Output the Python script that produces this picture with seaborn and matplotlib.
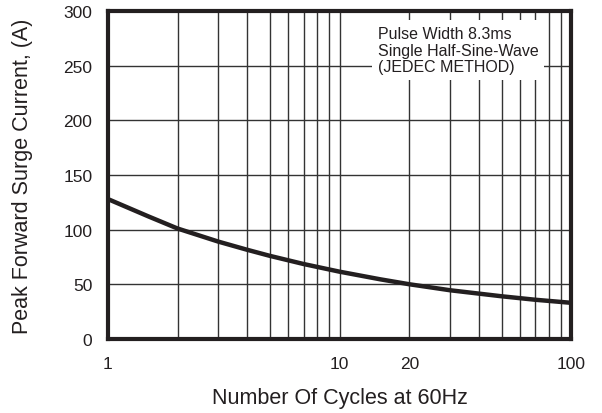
import matplotlib
matplotlib.use("Agg")
import matplotlib.pyplot as plt
import seaborn as sns
import pandas as pd
from matplotlib.ticker import FixedLocator, NullFormatter

# Values
cycles = [1, 1.5, 2, 3, 4, 5, 7, 10, 15, 20, 30, 50, 70, 100]
surge_current = [128, 112, 101, 89, 81.5, 76, 68.5, 61.5, 54.5, 50, 44.5, 39, 35.8, 33]
x_tick_values = [1, 10, 20, 100]
x_tick_labels = ["1", "10", "20", "100"]
y_tick_values = [0, 50, 100, 150, 200, 250, 300]

df = pd.DataFrame({"cycles": cycles, "current": surge_current})

sns.set_style("white")
plt.rcParams["font.family"] = ["Liberation Sans", "DejaVu Sans"]

fig = plt.figure(figsize=(6.02, 4.14), dpi=100)
ax = fig.add_axes([0.179, 0.179, 0.770, 0.792])

sns.lineplot(data=df, x="cycles", y="current", ax=ax, color="#231f20",
             linewidth=3.2, solid_joinstyle="round", solid_capstyle="butt")

ax.set_xscale("log")
ax.set_xlim(1, 100)
ax.set_ylim(0, 300)

# Grid lines
grid_x = [2, 3, 4, 5, 6, 7, 8, 9, 10, 20, 30, 40, 50, 60, 70, 80, 90]
for gx in grid_x:
    ax.axvline(gx, color="#333333", linewidth=1.0, zorder=0)
for gy in y_tick_values[1:-1]:
    ax.axhline(gy, color="#333333", linewidth=1.0, zorder=0)

# Ticks
ax.xaxis.set_major_locator(FixedLocator(x_tick_values))
ax.set_xticklabels(x_tick_labels)
ax.xaxis.set_minor_formatter(NullFormatter())
ax.set_yticks(y_tick_values)
ax.tick_params(axis="both", which="both", length=0, labelsize=12.5, colors="#231f20")
ax.tick_params(axis="x", pad=12)
ax.tick_params(axis="y", pad=11)

# Frame
for spine in ax.spines.values():
    spine.set_color("#231f20")
    spine.set_linewidth(3)

# Titles
ax.set_xlabel("Number Of Cycles at 60Hz", fontsize=15.5, labelpad=12, color="#231f20")
ax.set_ylabel("Peak Forward Surge Current, (A)", fontsize=15.5, labelpad=22, color="#231f20")

# Annotation box
ax.text(0.5825, 0.955, "Pulse Width 8.3ms\nSingle Half-Sine-Wave\n(JEDEC METHOD)",
        transform=ax.transAxes, fontsize=11.5, va="top", ha="left", color="#231f20",
        linespacing=1.15,
        bbox=dict(facecolor="white", edgecolor="none", pad=4), zorder=5)

fig.savefig("out.png", dpi=100)
plt.close(fig)
